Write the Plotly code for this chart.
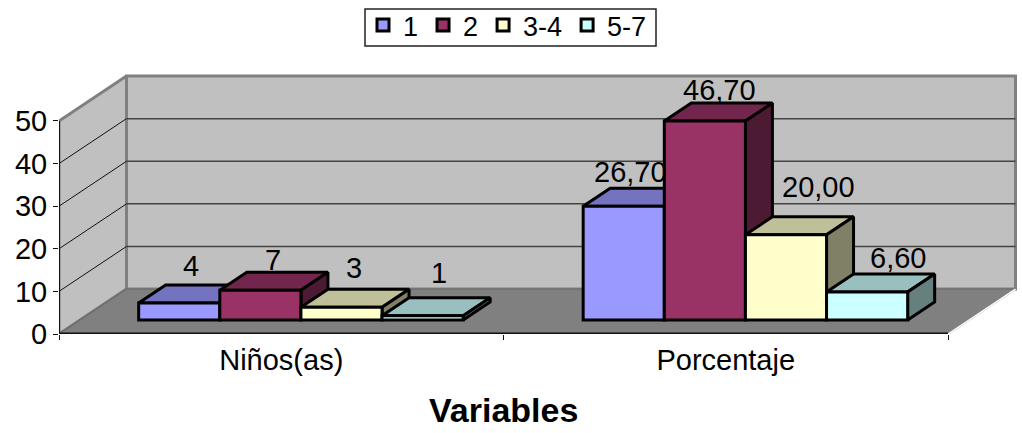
import plotly.graph_objects as go

# ---- data ----
categories = ["Niños(as)", "Porcentaje"]
series_names = ["1", "2", "3-4", "5-7"]
axis_title = "Variables"
values_1 = [4, 26.7]
values_2 = [7, 46.7]
values_3 = [3, 20.0]
values_4 = [1, 6.6]
label_1 = ["4", "26,70"]
label_2 = ["7", "46,70"]
label_3 = ["3", "20,00"]
label_4 = ["1", "6,60"]
y_ticks = [0, 10, 20, 30, 40, 50]

series_values = [values_1, values_2, values_3, values_4]
series_labels = [label_1, label_2, label_3, label_4]

# ---- style ----
front = ["#9999FF", "#993366", "#FFFFCC", "#CCFFFF"]
top = ["#7373BF", "#73264D", "#BFBF99", "#99BFBF"]
side = ["#4D4D80", "#4D1A33", "#808066", "#668080"]
WALL, FLOOR, EDGE = "#C0C0C0", "#808080", "#808080"
FONT = "Liberation Sans"
FS = 29

W, H = 1022, 433
LEFT, AXIS_Y = 59, 334.5
PLOT_W = W - LEFT
PX_X = 444.5          # pixels per category
PX_Y = 4.267          # pixels per value unit
DX = 67.5 / PX_X      # depth offset of the back wall, in axis units
DY = 45.0 / PX_Y
D0, D1 = 14 / 45, 32 / 45   # bar front / back depth fractions
GAP, BAR_W = 0.132, 0.1825  # within a category


def project(x, y, d):
    return x + d * DX, y + d * DY


def poly(points, fill, line_color="black", line_width=3, z=1):
    xs, ys = zip(*points)
    return go.Scatter(x=list(xs) + [xs[0]], y=list(ys) + [ys[0]], mode="lines", fill="toself",
                      fillcolor=fill, line=dict(color=line_color, width=line_width),
                      hoverinfo="skip", showlegend=False, zorder=z)


def seg(p, q, color, width, z):
    return go.Scatter(x=[p[0], q[0]], y=[p[1], q[1]], mode="lines", line=dict(color=color, width=width),
                      hoverinfo="skip", showlegend=False, zorder=z)


n_cat = len(categories)
traces = []
ymax = y_ticks[-1]
# walls and floor
traces.append(poly([project(0, 0, 0), project(0, ymax, 0), project(0, ymax, 1), project(0, 0, 1)], WALL, EDGE, 3, 0))
traces.append(poly([project(0, 0, 1), project(0, ymax, 1), project(n_cat, ymax, 1), project(n_cat, 0, 1)], WALL, EDGE, 3, 0))
for t in y_ticks[1:-1]:
    traces.append(seg(project(0, t, 1), project(n_cat, t, 1), "#444444", 1.5, 1))
for t in y_ticks[:-1]:
    traces.append(seg(project(0, t, 0), project(0, t, 1), "#111111", 1, 1))
traces.append(poly([project(0, 0, 0), project(n_cat, 0, 0), project(n_cat, 0, 1), project(0, 0, 1)], FLOOR, "#707070", 1.5, 2))
traces.append(seg(project(n_cat, 0, 0), project(n_cat, 0, 1), "white", 1.5, 3))
traces.append(seg(project(0, 0, 0), project(0, ymax, 0), "#111111", 2, 3))
traces.append(seg(project(0, 0, 0), project(n_cat, 0, 0), "#111111", 3, 3))

annotations = []
nudges = [[(12, 37), (7, 34)], [(13, 30), (15, 31)], [(13, 39), (33, 48)], [(16, 43), (31, 34)]]
z = 4
base_value = project(0, 0, D0)[1]
for s, name in enumerate(series_names):
    xs = []
    for c in range(n_cat):
        left = c + GAP + s * BAR_W
        right = left + BAR_W
        v = series_values[s][c]
        xs.append(project(left + BAR_W / 2, 0, D0)[0])
        traces.append(poly([project(left, v, D0), project(right, v, D0), project(right, v, D1), project(left, v, D1)], top[s], z=z))
        traces.append(poly([project(right, 0, D0), project(right, 0, D1), project(right, v, D1), project(right, v, D0)], side[s], z=z))
        ax, ay = project(left + BAR_W / 2, v, D0)
        dx, dy = nudges[s][c]
        annotations.append(dict(x=ax, y=ay, xref="x", yref="y", text=series_labels[s][c], showarrow=False,
                                xshift=dx, yshift=dy, xanchor="center", yanchor="middle",
                                font=dict(family=FONT, size=FS, color="black")))
    traces.append(go.Bar(x=xs, y=series_values[s], base=base_value, width=BAR_W, name=name,
                         marker=dict(color=front[s], line=dict(color="black", width=3)),
                         hoverinfo="skip", zorder=z + 1))
    z += 2

annotations.append(dict(x=n_cat / 2, y=0, xref="x", yref="y", yshift=-75.5, text="<b>%s</b>" % axis_title, showarrow=False,
                        xanchor="center", yanchor="middle", font=dict(family=FONT, size=34, color="black")))

fig = go.Figure(traces)
fig.update_layout(
    width=W, height=H, margin=dict(l=LEFT, r=0, t=0, b=H - AXIS_Y), paper_bgcolor="white", plot_bgcolor="rgba(0,0,0,0)",
    barmode="overlay", font=dict(family=FONT, size=FS, color="black"),
    legend=dict(orientation="h", x=(363 - LEFT) / PLOT_W, y=1 - 1 / AXIS_Y, xanchor="left", yanchor="top",
                bgcolor="rgba(0,0,0,0)", borderwidth=0, font=dict(family=FONT, size=27), traceorder="normal"),
    annotations=annotations,
    shapes=[dict(type="rect", xref="paper", yref="paper", x0=(365 - LEFT) / PLOT_W, x1=(656 - LEFT) / PLOT_W,
                 y0=1 - 46 / AXIS_Y, y1=1 - 9 / AXIS_Y, line=dict(color="#222222", width=1.5), fillcolor="rgba(0,0,0,0)")],
    xaxis=dict(range=[0, PLOT_W / PX_X], tickmode="array", tickvals=[c + 0.5 for c in range(n_cat)],
               ticktext=categories, ticks="", showgrid=False, zeroline=False, showline=False, ticklabelstandoff=6,
               minor=dict(tickmode="array", tickvals=list(range(n_cat + 1)), ticks="outside", ticklen=5, tickcolor="#111111", showgrid=False)),
    yaxis=dict(range=[0, AXIS_Y / PX_Y], tickmode="array", tickvals=y_ticks,
               ticks="outside", ticklen=5, tickcolor="#111111", showgrid=False, zeroline=False, showline=False),
)
fig.write_html("out.html", config={"displayModeBar": False}, post_script="document.body.style.margin='0';")
